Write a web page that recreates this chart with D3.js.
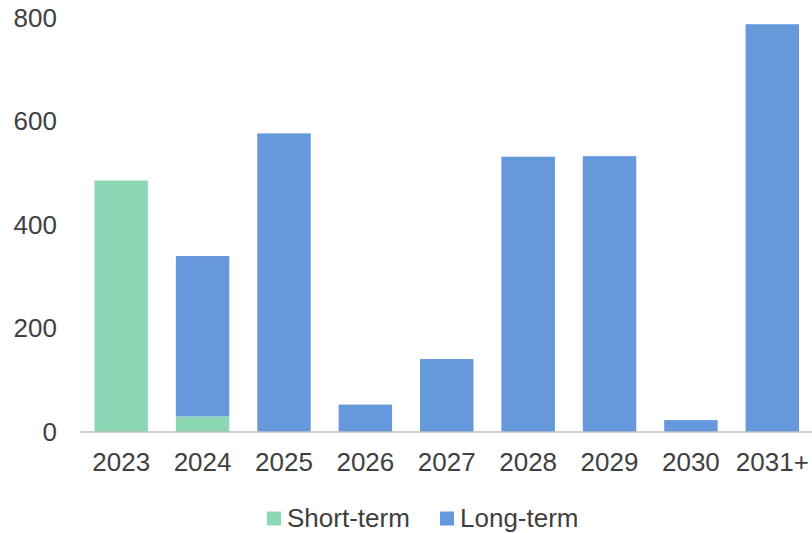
<!DOCTYPE html>
<html>
<head>
<meta charset="utf-8">
<script src="https://cdn.jsdelivr.net/npm/d3@7"></script>
<style>
  html, body { margin: 0; padding: 0; background: #fff; }
  svg { display: block; }
  text { font-family: "Liberation Sans", Arial, sans-serif; fill: #404040; }
</style>
</head>
<body>
<svg id="chart" width="812" height="533"></svg>
<script>
// Maturity profile, stacked by term
const years = ["2023", "2024", "2025", "2026", "2027", "2028", "2029", "2030", "2031+"];
const shortTerm = [486, 30, 0, 0, 0, 0, 0, 0, 0];
const longTerm = [0, 310, 577, 53, 141, 532, 533, 23, 788];
const seriesNames = ["Short-term", "Long-term"];
const seriesColors = ["#8dd8b4", "#6699db"];
const yTicks = [0, 200, 400, 600, 800];

const svg = d3.select("#chart");

const x = d3.scaleBand()
  .domain(years)
  .range([80.5, 813])
  .paddingInner(0.343)
  .paddingOuter(0.1715);

const y = d3.scaleLinear()
  .domain([0, 800])
  .range([432, 18]);

const rows = years.map((yr, i) => ({ year: yr, "Short-term": shortTerm[i], "Long-term": longTerm[i] }));
const stacked = d3.stack().keys(seriesNames)(rows);

// bars
svg.append("g")
  .selectAll("g")
  .data(stacked)
  .join("g")
  .attr("fill", (d, i) => seriesColors[i])
  .selectAll("rect")
  .data(d => d)
  .join("rect")
  .attr("x", d => x(d.data.year))
  .attr("width", x.bandwidth())
  .attr("y", d => y(d[1]))
  .attr("height", d => Math.max(0, y(d[0]) - y(d[1])));

// y axis labels (no line, no ticks)
const yAxis = svg.append("g")
  .attr("transform", "translate(57,0)")
  .call(d3.axisLeft(y).tickValues(yTicks).tickSize(0).tickPadding(0));
yAxis.select(".domain").remove();
yAxis.selectAll("text")
  .attr("font-size", 26)
  .attr("font-family", "Liberation Sans, Arial, sans-serif")
  .attr("fill", "#404040");

// x axis baseline and category labels
const xAxis = svg.append("g")
  .attr("transform", "translate(0,432)")
  .call(d3.axisBottom(x).tickSize(0).tickPadding(21));
xAxis.select(".domain")
  .attr("stroke", "#bfbfbf")
  .attr("stroke-width", 1.5)
  .attr("d", "M80.5,0H812");
xAxis.selectAll("text")
  .attr("font-size", 26)
  .attr("font-family", "Liberation Sans, Arial, sans-serif")
  .attr("fill", "#404040");

// legend
const legendItems = [{ name: seriesNames[0], x: 267 }, { name: seriesNames[1], x: 440 }];
const legend = svg.append("g");
legendItems.forEach((item, i) => {
  legend.append("rect")
    .attr("x", item.x)
    .attr("y", 511.5)
    .attr("width", 14)
    .attr("height", 14)
    .attr("fill", seriesColors[i]);
  legend.append("text")
    .attr("x", item.x + 20)
    .attr("y", 527)
    .attr("font-size", 26)
    .text(item.name);
});
</script>
</body>
</html>
